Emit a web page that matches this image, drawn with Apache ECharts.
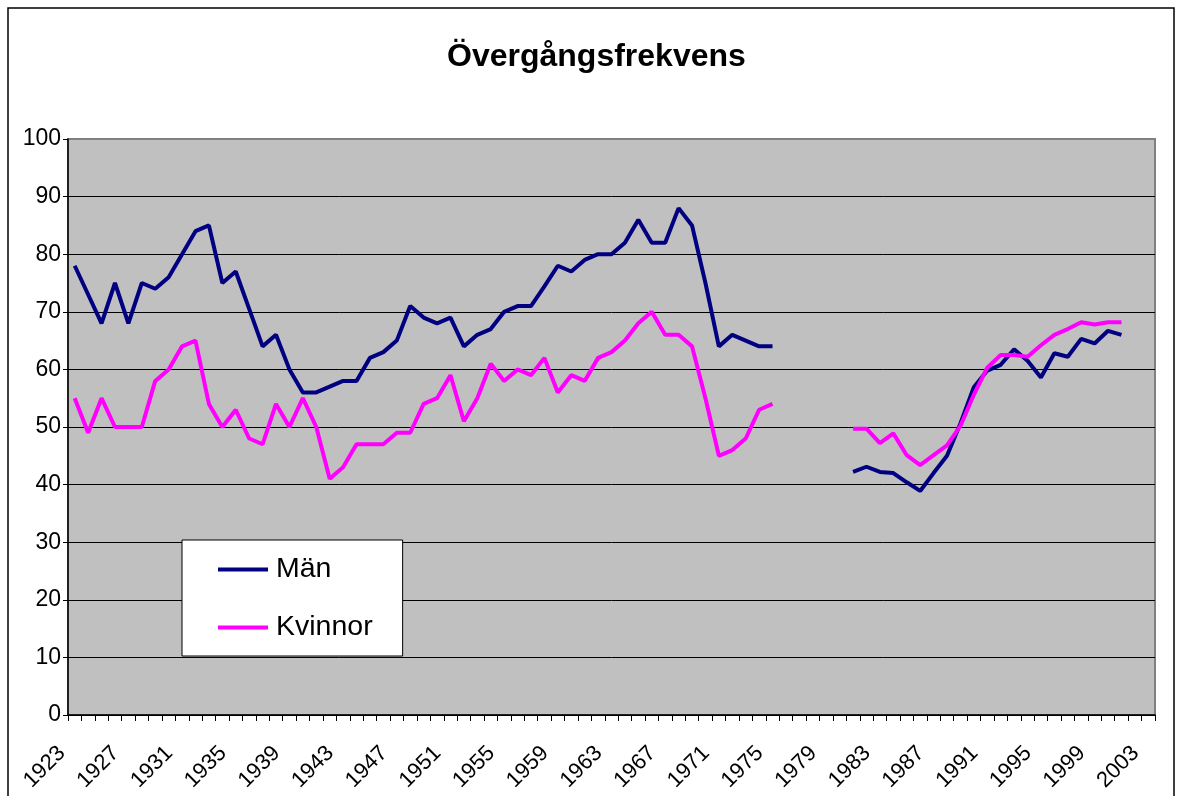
<!DOCTYPE html>
<html>
<head>
<meta charset="utf-8">
<script src="https://cdn.jsdelivr.net/npm/echarts@6/dist/echarts.min.js"></script>
<style>
html,body{margin:0;padding:0;background:#fff;}
#c{width:1177px;height:796px;}
</style>
</head>
<body>
<div id="c"></div>
<script>
const years = ['1923','1924','1925','1926','1927','1928','1929','1930','1931','1932','1933','1934','1935','1936','1937','1938','1939','1940','1941','1942','1943','1944','1945','1946','1947','1948','1949','1950','1951','1952','1953','1954','1955','1956','1957','1958','1959','1960','1961','1962','1963','1964','1965','1966','1967','1968','1969','1970','1971','1972','1973','1974','1975','1976','1977','1978','1979','1980','1981','1982','1983','1984','1985','1986','1987','1988','1989','1990','1991','1992','1993','1994','1995','1996','1997','1998','1999','2000','2001','2002','2003'];

// Män, 1923–1975, then gap 1976–1980, then 1981–2001, no data 2002–2003
const man = [78,73,68,75,68,75,74,76,80,84,85,75,77,70.5,64,66,60,56,56,57,58,58,62,63,65,71,69,68,69,64,66,67,70,71,71,74.4,78,77,79,80,80,82,86,82,82,88,85,75,64,66,65,64,64,
  null,null,null,null,null,
  42.2,43.1,42.2,42.0,40.4,38.9,42.0,45.0,50.6,56.9,59.8,60.8,63.5,61.5,58.6,62.8,62.2,65.3,64.5,66.7,66.0,
  null,null];

const kvinnor = [55,49,55,50,50,50,58,60,64,65,54,50,53,48,47,54,50,55,50,41,43,47,47,47,49,49,54,55,59,51,55,61,58,60,59,62,56,59,58,62,63,65,68,70,66,66,64,55,45,46,48,53,54,
  null,null,null,null,null,
  49.7,49.7,47.2,48.9,45.1,43.4,45.1,46.8,50.2,55.6,60.3,62.5,62.5,62.2,64.2,66.0,67.0,68.2,67.8,68.2,68.2,
  null,null];

const yTicks = {min: 0, max: 100, interval: 10};
const FONT = '"Liberation Sans", Arial, sans-serif';

const chart = echarts.init(document.getElementById('c'), null, {renderer: 'canvas'});
chart.setOption({
  animation: false,
  backgroundColor: '#ffffff',
  textStyle: {fontFamily: FONT, color: '#000'},
  title: {
    text: 'Övergångsfrekvens',
    left: 447, top: 41, padding: 0,
    textStyle: {fontFamily: FONT, fontSize: 32, fontWeight: 'bold', color: '#000'}
  },
  graphic: [{
    type: 'rect', silent: true, z: -10,
    shape: {x: 8, y: 8, width: 1166, height: 820},
    style: {fill: 'none', stroke: '#000', lineWidth: 1.5}
  }],
  legend: {
    orient: 'vertical',
    left: 182, top: 540,
    padding: [15, 30, 14, 36],
    itemGap: 29,
    itemWidth: 50, itemHeight: 4,
    icon: 'rect',
    backgroundColor: '#ffffff',
    borderColor: '#000', borderWidth: 1,
    textStyle: {fontFamily: FONT, fontSize: 28.5, color: '#000', padding: [0, 0, 0, 3]},
    data: ['Män', 'Kvinnor']
  },
  grid: {
    left: 68, right: 22, top: 139, bottom: 81,
    show: true, backgroundColor: '#C0C0C0', borderColor: '#808080', borderWidth: 2
  },
  xAxis: {
    type: 'category',
    data: years,
    boundaryGap: true,
    axisLine: {show: true, lineStyle: {color: '#000', width: 1.5}},
    axisTick: {show: true, interval: 0, length: 6, lineStyle: {color: '#000'}},
    axisLabel: {interval: 3, rotate: 45, fontSize: 22, margin: 22, padding: [0, 18, 0, 0], color: '#000', fontFamily: FONT},
    splitLine: {show: false}
  },
  yAxis: {
    type: 'value',
    min: yTicks.min, max: yTicks.max, interval: yTicks.interval,
    axisLine: {show: true, lineStyle: {color: '#000', width: 1.5}},
    axisTick: {show: true, length: 5, lineStyle: {color: '#000'}},
    axisLabel: {fontSize: 23, margin: 7, color: '#000', fontFamily: FONT},
    splitLine: {show: true, lineStyle: {color: ['#000','#000','#000','#000','#000','#000','#000','#000','#000','#000','#808080'], width: 1}}
  },
  series: [
    {name: 'Män', type: 'line', data: man, symbol: 'none', connectNulls: false,
     lineStyle: {color: '#000080', width: 4}, itemStyle: {color: '#000080'}},
    {name: 'Kvinnor', type: 'line', data: kvinnor, symbol: 'none', connectNulls: false,
     lineStyle: {color: '#FF00FF', width: 4}, itemStyle: {color: '#FF00FF'}}
  ]
});
</script>
</body>
</html>
